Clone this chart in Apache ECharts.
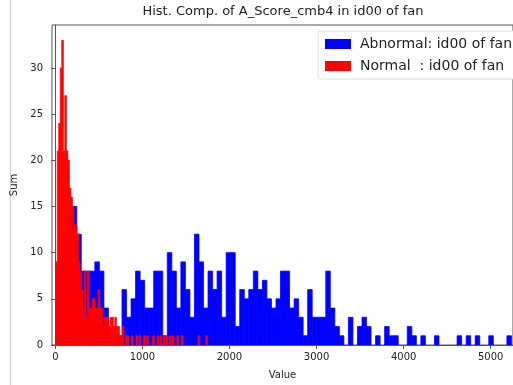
<!DOCTYPE html>
<html><head><meta charset="utf-8">
<script src="https://cdn.jsdelivr.net/npm/echarts@6/dist/echarts.min.js"></script>
<style>html,body{margin:0;padding:0;background:#fff}#c{width:513px;height:385px}</style>
</head><body><div id="c"></div>
<script>
// ---- data ----
const titleText = 'Hist. Comp. of A_Score_cmb4 in id00 of fan';
const abnormalName = 'Abnormal: id00 of fan';
const normalName = 'Normal  : id00 of fan';
const abnormalStart = 38;      // left edge of first bin
const abnormalWidth = 52;      // bin width
const abnormalCounts = [
  9,12,14,15,12,8,8,8,9,8,
  4,1,0,1,6,3,5,8,7,4,
  4,8,8,1,10,8,4,9,6,3,
  12,9,4,8,6,8,3,10,10,2,
  6,5,6,8,6,7,5,4,5,8,
  8,4,5,3,1,6,3,3,3,8,
  4,2,1,0,3,0,2,3,2,0,
  1,0,2,1,1,0,0,2,1,0,
  1,0,0,1,0,0,0,0,1,0,
  1,0,1,0,0,1,0,0,0,1
];
const normalStart = 5;
const normalWidth = 17.4;
const normalCounts = [
  9,21,24,30,33,21,27,21,20,17,
  16,15,13,13,12,9,8,6,4,8,
  3,8,4,4,5,5,4,4,6,4,
  4,2,3,3,3,2,3,3,2,3,
  2,2,1,1,2,0,1,1,0,0,
  1,0,0,1,0,1,0,0,1,0,
  1,0,0,0,1,0,0,1,0,1,
  0,1,0,1,0,1,0,1,0,0,
  1,0,0,1,0,0,0,0,0,0,
  0,0,0,0,1,0,0,0,0,1
];
const xTicks = [0,1000,2000,3000,4000,5000];
const yTicks = [0,5,10,15,20,25,30];
const xMin = -38, xMax = 5256, yMax = 34.65;

function bins(start, width, counts){
  return counts.map((c,i)=>[start+i*width, start+(i+1)*width, c]);
}
function makeRender(color){
  return function(params, api){
    const v = api.value(2);
    if (!v) return null;
    const p0 = api.coord([api.value(0), v]);
    const p1 = api.coord([api.value(1), 0]);
    return {type:'rect', shape:{x:p0[0], y:p0[1], width:p1[0]-p0[0], height:p1[1]-p0[1]},
      style:{fill:color, stroke:color, lineWidth:0.8}};
  };
}
const FONT = 'DejaVu Sans';
const fmt = v => String(v);
const chart = echarts.init(document.getElementById('c'), null, {renderer:'canvas'});
chart.setOption({
  animation:false,
  backgroundColor:'#fff',
  grid:{left:52, right:-1, top:25, bottom:37, show:true, borderColor:'#555', borderWidth:1, backgroundColor:'transparent'},
  xAxis:{type:'value', min:xMin, max:xMax,
    name:'Value', nameLocation:'middle', nameGap:25,
    nameTextStyle:{fontFamily:FONT, fontSize:10, color:'#222'},
    axisLine:{show:true, lineStyle:{color:'#555'}},
    axisTick:{show:true, inside:false, length:4, lineStyle:{color:'#555'}, customValues:xTicks},
    axisLabel:{fontFamily:FONT, fontSize:10, color:'#222', margin:7, customValues:xTicks, formatter:fmt},
    splitLine:{show:false}},
  yAxis:{type:'value', min:0, max:yMax,
    name:'Sum', nameLocation:'middle', nameGap:28, nameRotate:90,
    nameTextStyle:{fontFamily:FONT, fontSize:10, color:'#222'},
    axisLine:{show:true, lineStyle:{color:'#555'}},
    axisTick:{show:true, inside:false, length:4, lineStyle:{color:'#555'}, customValues:yTicks},
    axisLabel:{fontFamily:FONT, fontSize:10, color:'#222', margin:9, customValues:yTicks, formatter:fmt},
    splitLine:{show:false}},
  legend:{orient:'vertical', left:318, top:31, padding:[6,8,6,7], itemGap:8,
    itemWidth:26, itemHeight:10, icon:'rect',
    backgroundColor:'#fff', borderColor:'#ddd', borderWidth:1, borderRadius:3,
    textStyle:{fontFamily:FONT, fontSize:14, color:'#222', padding:[0,0,0,4]},
    data:[abnormalName, normalName]},
  graphic:[
    {type:'text', x:283, y:5, style:{text:titleText, font:'13px "DejaVu Sans"', fill:'#222', textAlign:'center', textVerticalAlign:'top'}},
    {type:'rect', left:10, top:0, shape:{x:0, y:0, width:1, height:385}, style:{fill:'#cfcfcf'}}
  ],
  series:[
    {name:abnormalName, type:'custom', color:'#0000ff', itemStyle:{color:'#0000ff'},
     renderItem:makeRender('#0000ff'), encode:{x:[0,1], y:2},
     data:bins(abnormalStart, abnormalWidth, abnormalCounts), clip:true},
    {name:normalName, type:'custom', color:'#ff0000', itemStyle:{color:'#ff0000'},
     renderItem:makeRender('#ff0000'), encode:{x:[0,1], y:2},
     data:bins(normalStart, normalWidth, normalCounts), clip:true}
  ]
});
</script></body></html>
